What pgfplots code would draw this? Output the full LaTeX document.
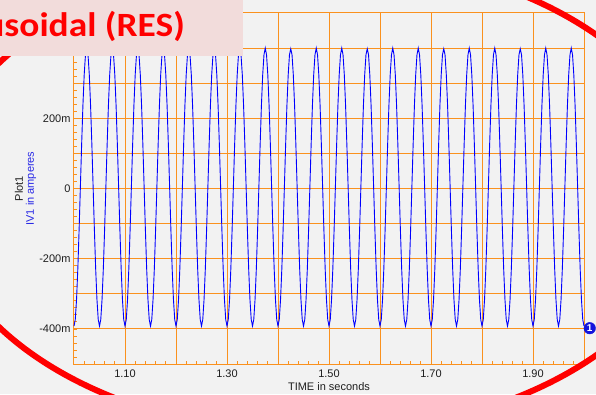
\documentclass[border=0pt]{standalone}
\usepackage{pgfplots}
\pgfplotsset{compat=1.18}
\usepackage{fontspec}
\setmainfont{Liberation Sans}
\newfontfamily\titlefont{Carlito}
\definecolor{bgc}{RGB}{242,242,242}
\definecolor{org}{RGB}{250,145,30}
\definecolor{tracec}{RGB}{0,0,255}
\definecolor{mkblue}{RGB}{20,20,220}
\definecolor{labblue}{RGB}{40,40,230}
\definecolor{pinkc}{RGB}{242,220,219}
\definecolor{tickc}{RGB}{30,30,30}
\begin{document}
\begin{tikzpicture}
\fill[bgc] (0pt,0pt) rectangle (596pt,394pt);
\begin{axis}[
  at={(74pt,30pt)}, anchor=south west,
  scale only axis, width=510pt, height=351pt,
  xmin=1.0, xmax=2.0, ymin=-0.5, ymax=0.5,
  clip=false,
  axis line style={draw=org, line width=1pt},
  grid=major,
  major grid style={draw=org, line width=0.9pt},
  xtick={1.1,1.2,1.3,1.4,1.5,1.6,1.7,1.8,1.9},
  xticklabels={1.10,,1.30,,1.50,,1.70,,1.90},
  ytick={-0.4,-0.3,-0.2,-0.1,0,0.1,0.2,0.3,0.4},
  yticklabels={-400m,,-200m,,0,,200m,,},
  minor xtick={1.02,1.04,1.06,1.08,1.12,1.14,1.16,1.18,1.22,1.24,1.26,1.28,1.32,1.34,1.36,1.38,1.42,1.44,1.46,1.48,1.52,1.54,1.56,1.58,1.62,1.64,1.66,1.68,1.72,1.74,1.76,1.78,1.82,1.84,1.86,1.88,1.92,1.94,1.96,1.98},
  minor ytick={-0.48,-0.46,-0.44,-0.42,-0.38,-0.36,-0.34,-0.32,-0.28,-0.26,-0.24,-0.22,-0.18,-0.16,-0.14,-0.12,-0.08,-0.06,-0.04,-0.02,0.02,0.04,0.06,0.08,0.12,0.14,0.16,0.18,0.22,0.24,0.26,0.28,0.32,0.34,0.36,0.38,0.42,0.44,0.46,0.48},
  tick align=inside, tick pos=left,
  major tick length=3pt, minor tick length=3pt,
  tick style={draw=org, line width=0.8pt},
  ticklabel style={font=\fontsize{11}{11}\selectfont, text=tickc},
  xticklabel style={yshift=-2.4pt},
  xlabel={TIME in seconds},
  ylabel={Plot1\\\textcolor{labblue}{IV1 in amperes}},
  every axis x label/.style={at={(axis description cs:0.5,0)}, anchor=center, yshift=-23pt, font=\fontsize{11}{11}\selectfont, text=tickc},
  every axis y label/.style={at={(axis description cs:0,0.5)}, rotate=90, anchor=center, yshift=48.5pt, align=center, font=\fontsize{11}{11}\selectfont, text=tickc},
]
\addplot[tracec, line width=0.9pt] coordinates {
(1.0000,-0.392)(1.0025,-0.373)(1.0050,-0.316)(1.0075,-0.229)(1.0100,-0.118)(1.0125,0.004)(1.0150,0.126)(1.0175,0.237)(1.0200,0.324)(1.0225,0.381)(1.0250,0.400)(1.0275,0.381)(1.0300,0.324)(1.0325,0.237)(1.0350,0.126)(1.0375,0.004)(1.0400,-0.118)(1.0425,-0.229)(1.0450,-0.316)(1.0475,-0.373)
(1.0500,-0.392)(1.0525,-0.373)(1.0550,-0.316)(1.0575,-0.229)(1.0600,-0.118)(1.0625,0.004)(1.0650,0.126)(1.0675,0.237)(1.0700,0.324)(1.0725,0.381)(1.0750,0.400)(1.0775,0.381)(1.0800,0.324)(1.0825,0.237)(1.0850,0.126)(1.0875,0.004)(1.0900,-0.118)(1.0925,-0.229)(1.0950,-0.316)(1.0975,-0.373)
(1.1000,-0.392)(1.1025,-0.373)(1.1050,-0.316)(1.1075,-0.229)(1.1100,-0.118)(1.1125,0.004)(1.1150,0.126)(1.1175,0.237)(1.1200,0.324)(1.1225,0.381)(1.1250,0.398)(1.1275,0.381)(1.1300,0.324)(1.1325,0.237)(1.1350,0.126)(1.1375,0.004)(1.1400,-0.118)(1.1425,-0.229)(1.1450,-0.316)(1.1475,-0.373)
(1.1500,-0.392)(1.1525,-0.373)(1.1550,-0.316)(1.1575,-0.229)(1.1600,-0.118)(1.1625,0.004)(1.1650,0.126)(1.1675,0.237)(1.1700,0.324)(1.1725,0.381)(1.1750,0.400)(1.1775,0.381)(1.1800,0.324)(1.1825,0.237)(1.1850,0.126)(1.1875,0.004)(1.1900,-0.118)(1.1925,-0.229)(1.1950,-0.316)(1.1975,-0.373)
(1.2000,-0.392)(1.2025,-0.373)(1.2050,-0.316)(1.2075,-0.229)(1.2100,-0.118)(1.2125,0.004)(1.2150,0.126)(1.2175,0.237)(1.2200,0.324)(1.2225,0.381)(1.2250,0.400)(1.2275,0.381)(1.2300,0.324)(1.2325,0.237)(1.2350,0.126)(1.2375,0.004)(1.2400,-0.118)(1.2425,-0.229)(1.2450,-0.316)(1.2475,-0.373)
(1.2500,-0.392)(1.2525,-0.373)(1.2550,-0.316)(1.2575,-0.229)(1.2600,-0.118)(1.2625,0.004)(1.2650,0.126)(1.2675,0.237)(1.2700,0.324)(1.2725,0.381)(1.2750,0.398)(1.2775,0.381)(1.2800,0.324)(1.2825,0.237)(1.2850,0.126)(1.2875,0.004)(1.2900,-0.118)(1.2925,-0.229)(1.2950,-0.316)(1.2975,-0.373)
(1.3000,-0.392)(1.3025,-0.373)(1.3050,-0.316)(1.3075,-0.229)(1.3100,-0.118)(1.3125,0.004)(1.3150,0.126)(1.3175,0.237)(1.3200,0.324)(1.3225,0.381)(1.3250,0.400)(1.3275,0.381)(1.3300,0.324)(1.3325,0.237)(1.3350,0.126)(1.3375,0.004)(1.3400,-0.118)(1.3425,-0.229)(1.3450,-0.316)(1.3475,-0.373)
(1.3500,-0.392)(1.3525,-0.373)(1.3550,-0.316)(1.3575,-0.229)(1.3600,-0.118)(1.3625,0.004)(1.3650,0.126)(1.3675,0.237)(1.3700,0.324)(1.3725,0.381)(1.3750,0.400)(1.3775,0.381)(1.3800,0.324)(1.3825,0.237)(1.3850,0.126)(1.3875,0.004)(1.3900,-0.118)(1.3925,-0.229)(1.3950,-0.316)(1.3975,-0.373)
(1.4000,-0.392)(1.4025,-0.373)(1.4050,-0.316)(1.4075,-0.229)(1.4100,-0.118)(1.4125,0.004)(1.4150,0.126)(1.4175,0.237)(1.4200,0.324)(1.4225,0.381)(1.4250,0.398)(1.4275,0.381)(1.4300,0.324)(1.4325,0.237)(1.4350,0.126)(1.4375,0.004)(1.4400,-0.118)(1.4425,-0.229)(1.4450,-0.316)(1.4475,-0.373)
(1.4500,-0.392)(1.4525,-0.373)(1.4550,-0.316)(1.4575,-0.229)(1.4600,-0.118)(1.4625,0.004)(1.4650,0.126)(1.4675,0.237)(1.4700,0.324)(1.4725,0.381)(1.4750,0.400)(1.4775,0.381)(1.4800,0.324)(1.4825,0.237)(1.4850,0.126)(1.4875,0.004)(1.4900,-0.118)(1.4925,-0.229)(1.4950,-0.316)(1.4975,-0.373)
(1.5000,-0.392)(1.5025,-0.373)(1.5050,-0.316)(1.5075,-0.229)(1.5100,-0.118)(1.5125,0.004)(1.5150,0.126)(1.5175,0.237)(1.5200,0.324)(1.5225,0.381)(1.5250,0.400)(1.5275,0.381)(1.5300,0.324)(1.5325,0.237)(1.5350,0.126)(1.5375,0.004)(1.5400,-0.118)(1.5425,-0.229)(1.5450,-0.316)(1.5475,-0.373)
(1.5500,-0.392)(1.5525,-0.373)(1.5550,-0.316)(1.5575,-0.229)(1.5600,-0.118)(1.5625,0.004)(1.5650,0.126)(1.5675,0.237)(1.5700,0.324)(1.5725,0.381)(1.5750,0.398)(1.5775,0.381)(1.5800,0.324)(1.5825,0.237)(1.5850,0.126)(1.5875,0.004)(1.5900,-0.118)(1.5925,-0.229)(1.5950,-0.316)(1.5975,-0.373)
(1.6000,-0.392)(1.6025,-0.373)(1.6050,-0.316)(1.6075,-0.229)(1.6100,-0.118)(1.6125,0.004)(1.6150,0.126)(1.6175,0.237)(1.6200,0.324)(1.6225,0.381)(1.6250,0.400)(1.6275,0.381)(1.6300,0.324)(1.6325,0.237)(1.6350,0.126)(1.6375,0.004)(1.6400,-0.118)(1.6425,-0.229)(1.6450,-0.316)(1.6475,-0.373)
(1.6500,-0.392)(1.6525,-0.373)(1.6550,-0.316)(1.6575,-0.229)(1.6600,-0.118)(1.6625,0.004)(1.6650,0.126)(1.6675,0.237)(1.6700,0.324)(1.6725,0.381)(1.6750,0.400)(1.6775,0.381)(1.6800,0.324)(1.6825,0.237)(1.6850,0.126)(1.6875,0.004)(1.6900,-0.118)(1.6925,-0.229)(1.6950,-0.316)(1.6975,-0.373)
(1.7000,-0.392)(1.7025,-0.373)(1.7050,-0.316)(1.7075,-0.229)(1.7100,-0.118)(1.7125,0.004)(1.7150,0.126)(1.7175,0.237)(1.7200,0.324)(1.7225,0.381)(1.7250,0.398)(1.7275,0.381)(1.7300,0.324)(1.7325,0.237)(1.7350,0.126)(1.7375,0.004)(1.7400,-0.118)(1.7425,-0.229)(1.7450,-0.316)(1.7475,-0.373)
(1.7500,-0.392)(1.7525,-0.373)(1.7550,-0.316)(1.7575,-0.229)(1.7600,-0.118)(1.7625,0.004)(1.7650,0.126)(1.7675,0.237)(1.7700,0.324)(1.7725,0.381)(1.7750,0.400)(1.7775,0.381)(1.7800,0.324)(1.7825,0.237)(1.7850,0.126)(1.7875,0.004)(1.7900,-0.118)(1.7925,-0.229)(1.7950,-0.316)(1.7975,-0.373)
(1.8000,-0.392)(1.8025,-0.373)(1.8050,-0.316)(1.8075,-0.229)(1.8100,-0.118)(1.8125,0.004)(1.8150,0.126)(1.8175,0.237)(1.8200,0.324)(1.8225,0.381)(1.8250,0.400)(1.8275,0.381)(1.8300,0.324)(1.8325,0.237)(1.8350,0.126)(1.8375,0.004)(1.8400,-0.118)(1.8425,-0.229)(1.8450,-0.316)(1.8475,-0.373)
(1.8500,-0.392)(1.8525,-0.373)(1.8550,-0.316)(1.8575,-0.229)(1.8600,-0.118)(1.8625,0.004)(1.8650,0.126)(1.8675,0.237)(1.8700,0.324)(1.8725,0.381)(1.8750,0.398)(1.8775,0.381)(1.8800,0.324)(1.8825,0.237)(1.8850,0.126)(1.8875,0.004)(1.8900,-0.118)(1.8925,-0.229)(1.8950,-0.316)(1.8975,-0.373)
(1.9000,-0.392)(1.9025,-0.373)(1.9050,-0.316)(1.9075,-0.229)(1.9100,-0.118)(1.9125,0.004)(1.9150,0.126)(1.9175,0.237)(1.9200,0.324)(1.9225,0.381)(1.9250,0.400)(1.9275,0.381)(1.9300,0.324)(1.9325,0.237)(1.9350,0.126)(1.9375,0.004)(1.9400,-0.118)(1.9425,-0.229)(1.9450,-0.316)(1.9475,-0.373)
(1.9500,-0.392)(1.9525,-0.373)(1.9550,-0.316)(1.9575,-0.229)(1.9600,-0.118)(1.9625,0.004)(1.9650,0.126)(1.9675,0.237)(1.9700,0.324)(1.9725,0.381)(1.9750,0.400)(1.9775,0.381)(1.9800,0.324)(1.9825,0.237)(1.9850,0.126)(1.9875,0.004)(1.9900,-0.118)(1.9925,-0.229)(1.9950,-0.316)(1.9975,-0.373)
(2.0000,-0.392)
};
\addplot[only marks, mark=*, mark size=5.8pt, mark options={fill=mkblue, draw=mkblue},
  nodes near coords={1},
  every node near coord/.style={anchor=center, text=white, font=\bfseries\fontsize{10}{10}\selectfont}]
  coordinates {(2.0112,-0.398)};
\end{axis}
\draw[red, line width=6pt] (315pt,199pt) ellipse [x radius=379pt, y radius=239pt];
\fill[pinkc] (0pt,394pt) rectangle (243pt,338pt);
\node[anchor=base east, inner sep=0pt, xscale=1.1, text=red, font=\titlefont\bfseries\fontsize{34}{34}\selectfont] at (185pt,357.5pt) {usoidal (RES)};
\pgfresetboundingbox
\useasboundingbox (0pt,0pt) rectangle (596pt,394pt);
\end{tikzpicture}
\end{document}
